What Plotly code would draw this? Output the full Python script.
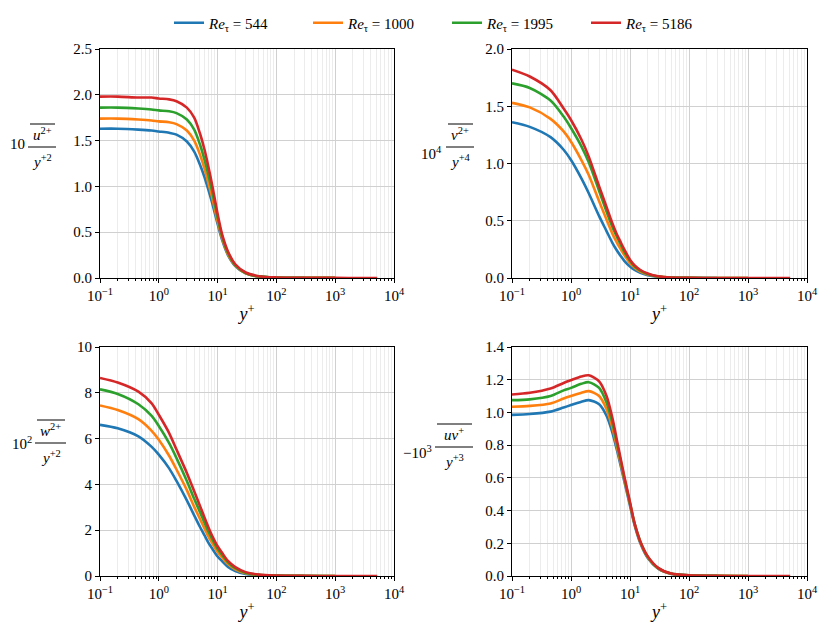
import plotly.graph_objects as go
from plotly.subplots import make_subplots

# wall-normal positions (y+) shared by all panels
y_plus = [0.1, 0.2, 0.45, 0.75, 1, 1.5, 2, 3, 4, 5, 6, 7, 8, 10, 12, 15, 20, 30, 50,
          100, 300, 1000, 3000, 5186]

re_tau = [544, 1000, 1995, 5186]
labels = ["<i>Re</i><sub>τ</sub> = 544", "<i>Re</i><sub>τ</sub> = 1000",
          "<i>Re</i><sub>τ</sub> = 1995", "<i>Re</i><sub>τ</sub> = 5186"]

# 10 * u'^2 / y+^2
uu_544 = [1.63, 1.63, 1.62, 1.61, 1.60, 1.585, 1.565, 1.49, 1.38, 1.24, 1.10, 0.96, 0.83, 0.59,
          0.41, 0.25, 0.13, 0.05, 0.015, 0.005, 0.002, 0.001, 0.0005, 0.0003]
uu_1000 = [1.74, 1.74, 1.73, 1.72, 1.71, 1.70, 1.68, 1.61, 1.50, 1.35, 1.19, 1.03, 0.89, 0.62,
           0.43, 0.26, 0.135, 0.052, 0.016, 0.005, 0.002, 0.001, 0.0005, 0.0003]
uu_1995 = [1.86, 1.86, 1.85, 1.84, 1.83, 1.82, 1.80, 1.73, 1.62, 1.46, 1.29, 1.12, 0.96, 0.66,
           0.45, 0.275, 0.14, 0.055, 0.018, 0.005, 0.002, 0.001, 0.0005, 0.0003]
uu_5186 = [1.98, 1.98, 1.97, 1.97, 1.96, 1.95, 1.93, 1.86, 1.75, 1.58, 1.40, 1.21, 1.03, 0.70,
           0.47, 0.29, 0.15, 0.06, 0.02, 0.006, 0.002, 0.001, 0.0005, 0.0003]

# 1e4 * v'^2 / y+^4
vv_544 = [1.36, 1.32, 1.23, 1.12, 1.03, 0.87, 0.74, 0.54, 0.41, 0.31, 0.24, 0.19, 0.15, 0.10,
          0.07, 0.045, 0.025, 0.01, 0.003, 0.001, 0.0, 0.0, 0.0, 0.0]
vv_1000 = [1.53, 1.49, 1.39, 1.28, 1.19, 1.03, 0.90, 0.67, 0.51, 0.39, 0.31, 0.25, 0.20, 0.13,
           0.09, 0.055, 0.03, 0.012, 0.003, 0.001, 0.0, 0.0, 0.0, 0.0]
vv_1995 = [1.70, 1.66, 1.55, 1.41, 1.31, 1.15, 1.01, 0.76, 0.58, 0.45, 0.36, 0.29, 0.23, 0.15,
           0.10, 0.065, 0.035, 0.013, 0.004, 0.001, 0.0, 0.0, 0.0, 0.0]
vv_5186 = [1.82, 1.76, 1.64, 1.48, 1.38, 1.21, 1.06, 0.80, 0.62, 0.48, 0.38, 0.31, 0.25, 0.16,
           0.11, 0.07, 0.04, 0.015, 0.004, 0.001, 0.0, 0.0, 0.0, 0.0]

# 1e2 * w'^2 / y+^2
ww_544 = [6.60, 6.45, 6.10, 5.65, 5.30, 4.70, 4.15, 3.30, 2.65, 2.15, 1.77, 1.45, 1.22, 0.85,
          0.64, 0.40, 0.22, 0.09, 0.03, 0.01, 0.003, 0.001, 0.0, 0.0]
ww_1000 = [7.45, 7.25, 6.85, 6.35, 5.95, 5.25, 4.65, 3.75, 3.02, 2.50, 2.07, 1.72, 1.46, 1.05,
           0.80, 0.52, 0.29, 0.12, 0.04, 0.012, 0.003, 0.001, 0.0, 0.0]
ww_1995 = [8.15, 7.95, 7.50, 7.00, 6.55, 5.80, 5.15, 4.15, 3.37, 2.80, 2.33, 1.93, 1.64, 1.19,
           0.91, 0.60, 0.34, 0.14, 0.05, 0.015, 0.004, 0.001, 0.0, 0.0]
ww_5186 = [8.65, 8.45, 8.05, 7.55, 7.04, 6.24, 5.52, 4.50, 3.70, 3.07, 2.55, 2.12, 1.78, 1.30,
           1.00, 0.66, 0.39, 0.17, 0.06, 0.02, 0.005, 0.001, 0.0, 0.0]

# -1e3 * uv / y+^3
uv_544 = [0.985, 0.99, 1.005, 1.03, 1.045, 1.065, 1.075, 1.05, 0.98, 0.88, 0.77, 0.67, 0.58,
          0.43, 0.31, 0.20, 0.11, 0.045, 0.013, 0.004, 0.001, 0.0, 0.0, 0.0]
uv_1000 = [1.035, 1.04, 1.055, 1.085, 1.10, 1.12, 1.13, 1.10, 1.02, 0.91, 0.79, 0.685, 0.59,
           0.44, 0.315, 0.205, 0.115, 0.047, 0.014, 0.004, 0.001, 0.0, 0.0, 0.0]
uv_1995 = [1.075, 1.08, 1.10, 1.135, 1.15, 1.175, 1.185, 1.15, 1.06, 0.94, 0.81, 0.70, 0.60,
           0.445, 0.32, 0.21, 0.118, 0.048, 0.015, 0.005, 0.001, 0.0, 0.0, 0.0]
uv_5186 = [1.11, 1.12, 1.146, 1.18, 1.197, 1.22, 1.227, 1.19, 1.10, 0.97, 0.83, 0.71, 0.61,
           0.45, 0.32, 0.21, 0.12, 0.05, 0.015, 0.005, 0.001, 0.0, 0.0, 0.0]

panels = [
    [uu_544, uu_1000, uu_1995, uu_5186],
    [vv_544, vv_1000, vv_1995, vv_5186],
    [ww_544, ww_1000, ww_1995, ww_5186],
    [uv_544, uv_1000, uv_1995, uv_5186],
]
y_ranges = [[0, 2.5], [0, 2.0], [0, 10], [0, 1.4]]
y_dticks = [0.5, 0.5, 2, 0.2]
y_formats = [".1f", ".1f", "d", ".1f"]

colors = ["#1f77b4", "#ff7f0e", "#2ca02c", "#d62728"]
FONT = "Liberation Serif"

W, H = 830, 635
ML, MR, MT, MB = 100, 23, 49, 59
PW, PH = W - ML - MR, H - MT - MB


def px_x(px):
    return (px - ML) / PW


def px_y(py):
    return (H - MB - py) / PH


fig = make_subplots(rows=2, cols=2)

for k, series in enumerate(panels):
    row, col = k // 2 + 1, k % 2 + 1
    for i, vals in enumerate(series):
        xs = [x for x in y_plus if x <= re_tau[i]]
        fig.add_trace(
            go.Scatter(
                x=xs, y=vals[:len(xs)], mode="lines", name=labels[i],
                line=dict(color=colors[i], width=2.6, shape="spline", smoothing=0.8),
                showlegend=(k == 0)),
            row=row, col=col)

x_domains = [[0, px_x(394)], [px_x(512), 1]]
y_domains = [[px_y(278), 1], [0, px_y(347)]]

minor_vals = [m * 10 ** e for e in range(-1, 4) for m in range(2, 10)]
major_vals = [0.1, 1, 10, 100, 1000, 10000]
major_text = ["10<sup>−1</sup>", "10<sup>0</sup>", "10<sup>1</sup>", "10<sup>2</sup>",
              "10<sup>3</sup>", "10<sup>4</sup>"]

for k in range(4):
    row, col = k // 2 + 1, k % 2 + 1
    fig.update_xaxes(
        type="log", range=[-1, 4], domain=x_domains[col - 1],
        tickvals=major_vals, ticktext=major_text,
        ticks="outside", ticklen=4, tickcolor="black",
        showline=True, mirror=True, linecolor="black", linewidth=1,
        showgrid=True, gridcolor="#d0d0d0", gridwidth=1,
        minor=dict(tickvals=minor_vals, ticks="outside", ticklen=2, tickcolor="black",
                   showgrid=True, gridcolor="#ececec", gridwidth=1),
        title=dict(text="<i>y</i><sup>+</sup>", standoff=4),
        zeroline=False, automargin=False,
        row=row, col=col)
    fig.update_yaxes(
        range=y_ranges[k], dtick=y_dticks[k], tick0=0, tickformat=y_formats[k],
        domain=y_domains[row - 1],
        ticks="outside", ticklen=4, tickcolor="black",
        showline=True, mirror=True, linecolor="black", linewidth=1,
        showgrid=True, gridcolor="#d0d0d0", gridwidth=1, zeroline=False,
        automargin=False,
        row=row, col=col)

# fraction-style y labels: prefix, numerator, denominator, overline, bar
ylabels = [
    ("10", 27, 144, "<i>u</i><sup>2+</sup>", "<i>y</i><sup>+2</sup>", 28, 56, 147),
    ("10<sup>4</sup>", 444, 153, "<i>v</i><sup>2+</sup>", "<i>y</i><sup>+4</sup>", 446, 474, 147),
    ("10<sup>2</sup>", 34, 443, "<i>w</i><sup>2+</sup>", "<i>y</i><sup>+2</sup>", 35, 66, 443),
    ("−10<sup>3</sup>", 434, 452, "<i>uv</i><sup>+</sup>", "<i>y</i><sup>+3</sup>", 435, 473, 447),
]
annotations = []
shapes = []
for pre, pre_x, pre_y, num, den, bx0, bx1, by in ylabels:
    cx = (bx0 + bx1) / 2
    annotations.append(dict(text=pre, x=px_x(pre_x), y=px_y(pre_y), xref="paper", yref="paper",
                            xanchor="right", yanchor="middle", showarrow=False))
    annotations.append(dict(text=num, x=px_x(cx), y=px_y(by - 13), xref="paper", yref="paper",
                            xanchor="center", yanchor="middle", showarrow=False))
    annotations.append(dict(text=den, x=px_x(cx), y=px_y(by + 14), xref="paper", yref="paper",
                            xanchor="center", yanchor="middle", showarrow=False))
    shapes.append(dict(type="line", xref="paper", yref="paper", x0=px_x(bx0), x1=px_x(bx1),
                       y0=px_y(by), y1=px_y(by), line=dict(color="black", width=1)))
    shapes.append(dict(type="line", xref="paper", yref="paper", x0=px_x(bx0 + 2), x1=px_x(bx1 - 1),
                       y0=px_y(by - 23), y1=px_y(by - 23), line=dict(color="black", width=1)))

fig.update_layout(
    width=W, height=H,
    margin=dict(l=ML, r=MR, t=MT, b=MB, autoexpand=False),
    paper_bgcolor="white", plot_bgcolor="white",
    font=dict(family=FONT, size=15, color="black"),
    legend=dict(orientation="h", x=px_x(447), xanchor="center", y=px_y(23), yanchor="middle",
                font=dict(size=15), bgcolor="rgba(0,0,0,0)",
                entrywidth=94, entrywidthmode="pixels"),
    annotations=annotations,
    shapes=shapes,
)

fig.write_html("out.html", config={"displayModeBar": False},
               post_script="document.body.style.margin='0';")
